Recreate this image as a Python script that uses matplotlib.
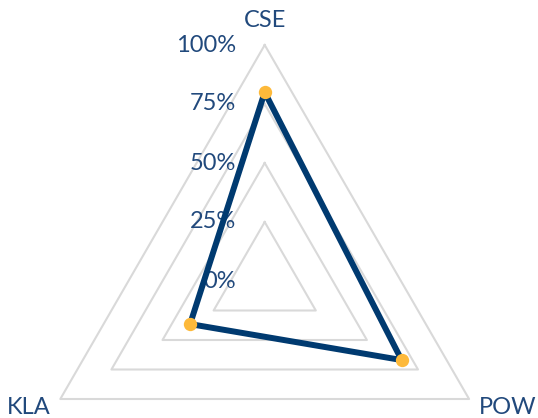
import numpy as np
import matplotlib
matplotlib.use("Agg")
import matplotlib.pyplot as plt
import matplotlib.transforms as mtransforms

categories = ["CSE", "POW", "KLA"]
values = [0.80, 0.67, 0.365]
levels = [0.0, 0.25, 0.5, 0.75, 1.0]
level_labels = ["0%", "25%", "50%", "75%", "100%"]

text_col = "#21497C"
line_col = "#003A70"
dot_col = "#FDB93A"
grid_col = "#D9D9D9"

plt.rcParams["font.family"] = ["Lato", "DejaVu Sans"]

W, H = 538, 418
fig = plt.figure(figsize=(W / 100, H / 100), dpi=100)

# centre and outer radius of the triangle, in pixels
cx, cy, R = 264.7, 281.0, 236.0
ax = fig.add_axes([(cx - R) / W, (H - cy - R) / H, 2 * R / W, 2 * R / H],
                  projection="polar")
ax.set_theta_offset(np.pi / 2)
ax.set_theta_direction(-1)
ax.set_ylim(0, 1)
ax.set_xticks([])
ax.set_yticks([])
ax.grid(False)
ax.spines["polar"].set_visible(False)
ax.patch.set_visible(False)

angles = np.linspace(0, 2 * np.pi, len(categories), endpoint=False)
closed = np.append(angles, angles[0])

# triangular grid
for lv in levels[1:]:
    ax.plot(closed, [lv] * len(closed), color=grid_col, lw=1.5,
            clip_on=False, zorder=1)

# radial labels
lab_tr = mtransforms.offset_copy(ax.transData, fig=fig, x=-29, y=0, units="dots")
for lv, lab in zip(levels, level_labels):
    ax.text(0, lv, lab, transform=lab_tr, ha="right", va="center",
            fontsize=17, color=text_col, zorder=2)

# data
vals = np.append(values, values[0])
ax.plot(closed, vals, color=line_col, lw=4.3, clip_on=False, zorder=3)
ax.plot(angles, values, "o", color=dot_col, ms=9.6, mew=0, clip_on=False, zorder=4)

# category labels
offsets = [(0, 18, "center"), (10, -15, "left"), (-10, -15, "right")]
for ang, cat, (dx, dy, ha) in zip(angles, categories, offsets):
    tr = mtransforms.offset_copy(ax.transData, fig=fig, x=dx, y=dy, units="dots")
    ax.text(ang, 1.0, cat, transform=tr, ha=ha, va="baseline",
            fontsize=17, color=text_col)

fig.savefig("out.png", dpi=100)
